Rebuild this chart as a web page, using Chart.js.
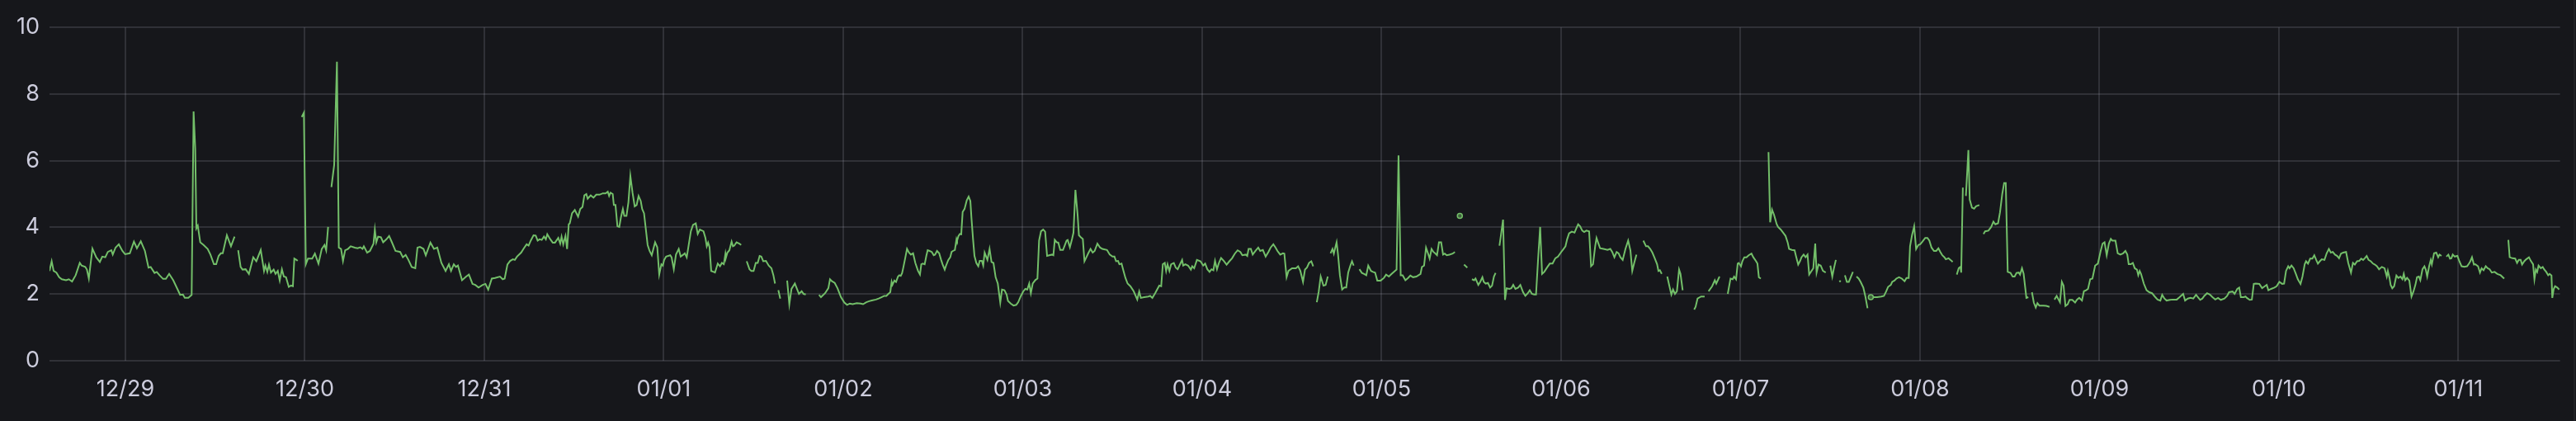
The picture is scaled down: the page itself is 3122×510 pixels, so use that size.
<!DOCTYPE html>
<html><head><meta charset="utf-8">
<script src="https://cdn.jsdelivr.net/npm/chart.js@4.4.1/dist/chart.umd.min.js"></script>
<style>html,body{margin:0;padding:0;background:#161719;overflow:hidden}canvas{display:block}</style>
</head><body>
<canvas id="c" width="3122" height="510" style="width:3122px;height:510px"></canvas>
<script>
// Hours since 12/29 00:00 and the series value at each reading (null = gap in data)
const hours = [
-10.15,-9.86,-9.60,-9.23,-8.86,-8.50,-7.94,-7.57,-7.13,-6.65,
-6.10,-5.85,-5.37,-5.15,-4.89,-4.41,-3.90,-3.42,-3.09,-2.69,
-2.35,-1.88,-1.69,-1.32,-0.88,-0.40,-0.04,0.59,1.14,1.54,
2.06,2.61,3.09,3.38,3.90,4.19,4.56,5.04,5.41,5.85,
6.40,6.95,7.32,7.69,7.94,8.42,8.86,9.12,9.34,9.49,
9.68,10.01,10.45,11.00,11.37,11.84,12.14,12.47,12.77,13.02,
13.57,14.12,14.60,14.84,15.08,15.41,15.67,16.08,16.52,17.10,
17.51,18.10,
18.54,18.72,18.98,19.20,19.46,19.83,20.08,20.38,20.64,20.93,
21.19,21.48,21.85,22.14,22.40,22.59,22.88,23.03,23.30,23.58,
23.87,24.13,24.42,24.98,25.34,25.82,26.26,26.63,26.85,27.11,
27.33,27.55,27.92,28.29,28.54,28.84,29.10,29.39,29.76,30.13,
30.68,31.05,31.41,31.71,31.89,32.33,32.70,33.18,33.36,33.55,
33.80,34.17,34.47,34.91,35.27,35.64,36.12,36.75,37.11,37.48,
37.85,38.29,38.77,39.06,39.39,39.87,40.17,40.79,41.27,41.71,
42.26,42.82,43.26,43.55,43.92,44.21,44.47,45.02,45.57,45.94,
46.42,46.79,47.23,47.78,48.15,48.52,49.00,
49.43,50.09,50.46,50.72,51.09,51.45,51.82,52.08,52.37,52.92,
53.29,53.66,53.92,54.21,54.58,54.87,55.13,55.39,55.68,55.98,
56.23,56.42,56.79,57.15,57.45,57.89,58.15,58.33,58.55,58.85,
59.07,59.29,59.43,59.73,60.10,60.54,60.83,61.13,61.38,61.64,
61.82,62.23,62.60,62.97,63.41,63.85,64.22,64.51,64.69,64.88,
65.17,65.32,65.54,65.80,66.05,66.27,66.53,66.72,67.01,67.27,
67.53,67.82,68.11,68.37,68.63,68.92,69.11,69.36,69.84,70.10,
70.39,70.65,70.84,71.13,71.39,71.68,71.87,72.05,72.31,72.86,
73.04,73.34,73.63,74.00,74.26,74.62,74.81,75.07,75.36,75.62,
75.91,76.28,76.54,76.83,77.31,77.57,77.75,77.93,78.12,78.34,
78.67,78.85,79.22,79.52,79.77,80.03,80.25,
80.33,80.51,80.77,81.07,81.25,81.43,81.73,82.10,82.35,82.70,
83.09,83.46,83.71,84.01,84.30,84.56,84.82,85.04,85.30,85.66,
86.03,86.40,86.66,86.88,87.10,87.32,87.58,88.00,88.50,88.79,
89.08,89.53,90.08,90.44,90.70,90.99,91.80,92.76,93.02,93.57,
94.01,94.23,94.49,94.86,95.23,95.70,96.15,96.51,96.88,97.25,
97.80,98.35,98.65,99.09,99.46,99.82,100.37,100.74,101.11,101.48,
101.77,102.03,102.29,102.47,102.58,102.84,103.06,103.32,103.50,103.69,
103.87,104.05,104.31,104.53,104.79,105.05,105.34,105.64,106.00,106.26,
106.44,106.63,106.89,107.11,107.29,107.55,107.84,108.10,108.28,108.54,
108.83,109.09,109.28,109.57,109.75,110.05,110.31,110.49,110.67,110.93,
111.15,
111.23,111.41,111.60,111.78,111.97,112.22,112.52,112.77,113.00,113.14,
113.36,113.55,113.80,114.06,114.25,114.54,114.72,114.91,115.28,115.57,
115.83,116.09,116.38,116.67,117.00,117.23,117.56,117.85,118.03,118.40,
118.77,119.14,119.40,119.76,120.06,120.35,120.61,120.87,121.09,121.34,
121.71,121.97,122.19,122.45,122.74,123.00,123.26,123.55,123.92,124.10,
124.29,124.54,124.76,125.02,125.39,125.65,125.87,126.02,126.31,126.60,
126.79,127.05,127.34,127.52,127.78,128.04,128.26,128.52,128.77,129.07,
129.36,129.62,129.99,130.36,130.65,131.27,131.64,132.01,132.27,132.49,
132.75,132.93,133.22,133.48,133.74,134.03,134.40,134.84,135.32,135.58,
135.80,136.24,136.79,137.05,137.34,137.71,138.26,138.52,138.74,139.00,
139.18,139.37,139.62,139.85,140.21,140.47,140.73,141.02,141.32,141.46,
141.76,
142.12,142.49,142.67,142.93,143.30,143.78,144.14,144.40,144.69,144.99,
145.25,145.50,145.72,145.98,146.24,146.53,146.90,147.27,147.64,148.00,
148.37,148.74,149.11,149.37,149.84,150.03,150.21,150.51,150.76,151.13,
151.50,151.76,152.12,152.49,152.86,153.15,153.52,153.82,154.07,154.44,
154.81,154.99,155.29,155.54,156.02,156.54,156.83,157.13,157.49,157.75,
158.01,158.30,158.60,158.85,159.10,159.33,159.59,159.85,160.22,160.51,
160.80,161.00,161.17,161.43,161.61,161.80,161.98,162.17,162.42,162.72,
163.01,163.27,163.53,163.82,164.04,164.26,164.60,165.03,165.36,165.66,
165.95,166.21,166.58,166.84,167.13,167.42,167.87,168.31,168.60,168.97,
169.34,169.78,170.00,170.26,170.55,170.81,171.18,171.54,171.84,172.21,
172.65,
173.20,173.39,173.68,173.94,174.20,174.42,174.68,174.93,175.15,175.41,
175.67,175.96,176.22,176.44,176.70,177.07,177.51,177.80,178.10,178.46,
178.75,179.02,179.46,179.75,180.08,180.38,180.56,180.93,181.19,181.48,
181.66,181.92,182.22,182.51,182.77,183.02,183.24,183.50,183.76,183.98,
184.24,184.50,184.72,185.08,185.34,185.60,185.89,186.26,186.55,186.92,
187.22,187.55,187.81,188.10,188.39,188.65,188.91,189.20,189.46,189.75,
190.12,190.49,190.86,191.23,191.59,191.96,192.33,192.59,192.81,193.07,
193.43,193.80,194.06,194.28,194.54,194.83,195.09,195.38,195.75,196.01,
196.27,196.56,196.74,197.00,197.22,197.66,198.21,198.58,198.84,199.13,
199.43,199.69,199.94,200.24,200.61,200.97,201.27,201.52,201.78,202.08,
202.50,203.00,203.36,203.62,203.92,
204.21,204.47,204.84,205.02,205.21,205.46,205.80,206.20,206.49,206.75,
206.97,207.23,207.49,207.78,207.97,208.26,209.00,209.80,209.99,210.25,
210.72,211.20,211.45,211.72,212.20,212.56,212.75,213.19,213.70,214.29,
214.66,214.95,215.14,215.40,215.62,215.76,216.06,216.24,216.50,216.79,
217.09,217.46,217.71,218.08,218.26,218.45,218.71,219.20,219.74,219.96,
220.21,220.47,220.84,221.02,221.39,221.76,222.02,222.31,222.49,222.86,
223.23,223.41,223.71,223.97,224.15,224.44,224.70,224.96,225.18,225.73,
225.99,226.17,226.43,226.72,227.02,227.39,227.70,228.01,228.27,228.49,
228.75,229.00,229.23,229.38,229.65,229.96,230.22,230.48,230.77,231.03,
231.27,231.51,231.80,232.06,232.42,232.68,232.98,233.20,233.42,233.60,
233.79,234.27,234.82,
235.18,235.47,235.73,236.10,236.28,236.58,236.83,237.20,237.57,237.94,
238.19,238.49,238.67,238.93,239.22,239.48,239.78,240.03,240.33,240.70,
240.99,241.25,241.54,241.87,242.17,242.46,242.72,242.98,243.27,243.45,
243.82,244.08,244.37,244.65,244.92,245.18,245.40,245.51,245.73,245.95,
246.14,246.47,246.65,246.95,247.24,247.50,247.94,248.20,248.49,248.71,
249.15,249.52,249.82,250.07,250.44,250.70,251.00,251.25,251.47,251.73,
252.10,252.39,252.65,252.91,253.20,253.38,253.64,253.86,254.23,254.49,
254.70,254.97,255.22,255.48,255.70,255.96,256.51,256.88,257.32,257.65,
257.98,258.28,258.72,258.97,259.20,259.45,259.75,260.00,260.37,260.74,
261.00,261.29,261.66,261.92,262.21,262.47,262.76,263.06,263.42,263.79,
264.16,264.42,264.68,264.97,265.26,265.52,265.71,
266.14,266.44,266.80,267.17,267.47,267.72,267.91,268.20,268.46,268.72,
269.01,269.19,269.38,269.56,269.93,270.30,270.67,271.03,271.40,271.77,
272.14,272.39,272.69,272.98,273.42,273.79,274.34,274.71,275.19,275.45,
275.81,276.18,276.55,276.92,277.18,277.47,277.76,278.02,278.39,278.76,
279.12,279.49,279.86,280.23,280.71,281.07,281.33,281.81,282.07,282.43,
282.69,282.91,283.28,283.54,283.72,284.09,284.38,284.64,284.90,285.38,
285.75,286.11,286.37,286.59,286.96,287.40,287.69,288.06,288.43,288.69,
288.95,289.24,289.42,289.68,289.97,290.27,290.53,290.89,291.15,291.45,
291.63,291.89,292.18,292.48,292.73,292.99,293.21,293.47,293.73,294.09,
294.39,294.68,294.94,295.20,295.49,295.79,296.04,296.30,296.60,
296.98,297.27,297.64,297.90,298.15,298.45,298.74,299.00,299.26,299.48,
299.74,299.99,300.29,300.58,300.84,301.10,301.39,301.76,302.13,302.42,
302.57,302.79,302.94,303.16,303.41,303.71,303.97,304.26,304.52,304.70,
304.89,305.14,305.44,305.73,305.99,306.25,306.47,306.72,306.91,307.20,
307.46,307.64,307.83,308.09,308.31,308.45,308.75,309.04,309.30,309.48,
309.74,310.05,310.40,310.66,310.88,311.06,311.25,311.51,311.87,312.13,
312.43,312.79,313.16,313.42,313.60,313.82,314.08,314.26,314.63,314.89,
315.11,315.37,315.66,315.92,316.18,316.47,316.84,317.21,317.65,318.13,
318.40,318.68,318.86,319.23,319.60,319.85,320.08,320.33,320.52,320.81,
321.07,321.44,321.69,321.99,322.17,322.36,322.54,322.72,323.02,323.28,
323.46,323.75,324.01,324.20,324.45,324.56,324.75,324.93,325.22,325.48
];
const values = [
2.69,2.98,2.69,2.64,2.50,2.44,2.41,2.44,2.37,2.56,
2.93,2.85,2.81,2.73,2.46,3.36,3.10,2.96,3.12,3.10,
3.26,3.31,3.18,3.39,3.49,3.29,3.19,3.22,3.57,3.37,
3.58,3.29,2.79,2.81,2.63,2.66,2.56,2.45,2.45,2.60,
2.41,2.15,1.97,1.98,1.88,1.88,1.97,7.48,6.36,3.97,
4.05,3.55,3.47,3.35,3.18,2.89,2.89,3.14,3.22,3.22,
3.76,3.43,3.72,null,3.31,2.81,2.73,2.74,2.60,3.10,
2.98,3.32,
2.69,2.85,2.66,2.88,2.64,2.73,2.60,2.69,2.40,2.74,
2.52,2.50,2.21,2.25,2.23,3.06,3.02,2.99,null,7.31,
7.44,2.89,3.06,3.06,3.21,2.91,3.35,3.47,3.31,4.01,
null,5.21,5.87,8.97,3.39,3.35,2.99,3.31,3.35,3.43,
3.39,3.37,3.40,3.35,3.43,3.24,3.29,3.51,3.93,3.55,
3.72,3.70,3.55,3.64,3.74,3.55,3.29,3.26,3.10,3.17,
3.02,2.81,2.77,3.39,3.41,3.35,3.16,3.54,3.35,3.39,
2.93,2.69,2.89,2.69,2.89,2.81,2.85,2.41,2.52,2.58,
2.30,2.27,2.19,2.27,2.30,2.13,2.46,
2.48,2.52,2.44,2.46,2.88,2.99,3.04,3.02,3.12,3.24,
3.37,3.49,3.45,3.60,3.76,3.75,3.60,3.64,3.62,3.72,
3.64,3.79,3.65,3.54,3.54,3.68,3.51,3.72,3.49,3.74,
3.35,4.09,4.12,4.42,4.52,4.32,4.55,4.61,4.96,5.00,
4.86,4.96,4.89,4.98,4.98,5.02,5.02,5.07,4.94,5.04,
5.00,4.67,4.67,4.03,4.01,4.30,4.55,4.34,4.34,4.75,
5.54,5.04,4.63,4.67,4.94,4.79,4.55,4.42,3.47,3.29,
3.16,3.39,3.55,3.40,2.58,2.89,2.85,3.02,3.12,3.16,
3.10,2.74,3.18,3.35,3.12,3.18,3.22,3.10,3.51,3.88,
4.07,4.12,3.80,3.93,3.88,3.68,3.43,3.54,3.40,2.69,
2.66,2.64,2.91,2.83,2.93,2.89,3.21,
3.10,3.24,3.31,3.57,3.43,3.45,3.55,3.51,3.47,null,
2.98,2.74,2.69,2.69,2.93,2.93,3.14,3.12,2.98,2.99,
2.85,2.77,2.56,2.31,null,2.11,1.86,null,2.40,1.69,
2.15,2.31,2.00,2.08,2.00,1.98,null,1.97,1.90,2.02,
2.17,2.44,2.38,2.33,2.17,1.90,1.74,1.67,1.71,1.69,
1.72,1.71,1.69,1.75,1.78,1.80,1.83,1.86,1.90,1.94,
1.94,2.00,2.05,2.36,2.27,2.40,2.36,2.52,2.56,2.54,
2.62,2.81,3.10,3.35,3.24,3.18,3.22,2.93,2.69,2.58,
2.89,2.91,2.89,3.14,3.31,3.29,3.26,3.16,3.18,3.29,
3.22,3.02,2.89,2.73,2.85,3.02,3.10,3.26,3.29,3.32,
3.65,
3.60,3.74,3.80,3.79,4.46,4.55,4.81,4.92,4.79,4.30,
3.64,3.14,2.93,2.83,2.99,2.99,2.85,3.24,3.02,3.35,
2.96,2.93,2.50,2.31,1.74,2.13,2.11,1.98,1.79,1.71,
1.65,1.67,1.75,1.94,2.07,2.15,2.13,2.31,2.02,2.31,
2.42,2.46,3.60,3.88,3.93,3.87,3.14,3.16,3.18,3.16,
3.62,3.55,3.54,3.32,3.32,3.47,3.60,3.62,3.40,3.65,
3.84,5.12,4.38,3.76,3.70,3.65,2.98,3.10,3.22,3.35,
3.24,3.29,3.51,3.39,3.35,3.32,3.18,3.12,3.12,2.98,
2.99,2.89,2.91,2.69,2.48,2.31,2.23,2.08,1.83,2.07,
1.88,1.90,1.92,1.94,1.88,2.02,2.25,2.23,2.89,2.93,
2.69,2.89,2.69,2.89,2.93,2.79,2.74,2.88,3.02,2.85,
2.89,
2.85,2.73,2.83,2.77,3.02,2.98,2.85,2.91,2.74,2.66,
2.74,2.71,2.99,2.74,2.93,3.08,2.99,2.88,2.98,3.07,
3.21,3.31,3.26,3.16,3.18,3.14,3.35,3.35,3.18,3.29,
3.39,3.29,3.32,3.12,3.26,3.39,3.49,3.39,3.29,3.18,
3.22,3.21,2.50,2.69,2.77,2.77,2.83,2.69,2.36,2.73,
2.79,2.93,2.98,2.83,null,1.75,2.07,2.52,2.25,2.27,
2.52,null,3.22,3.35,3.21,3.39,3.55,3.18,2.56,2.13,
2.19,2.19,2.64,2.85,2.98,2.85,null,2.74,2.63,2.60,
2.56,2.85,2.69,2.66,2.64,2.40,2.40,2.48,2.58,2.52,
2.60,2.69,2.73,6.16,2.56,2.56,2.41,2.48,2.55,2.50,
2.52,
2.60,2.81,2.85,3.39,3.22,3.06,3.35,3.26,3.22,3.16,
3.55,3.55,3.18,3.21,3.16,3.18,3.21,3.26,null,4.34,
null,2.88,2.79,null,2.44,2.41,2.46,2.27,2.36,2.50,
2.36,2.31,2.33,2.19,2.25,2.52,2.63,null,3.45,3.80,
4.23,1.82,2.17,2.15,2.17,2.27,2.15,2.19,2.27,2.05,
1.94,2.02,2.11,2.00,1.98,1.98,2.98,4.01,2.60,2.66,
2.79,2.91,2.91,3.07,3.12,3.24,3.35,3.43,3.64,3.82,
3.87,3.84,3.98,4.09,4.03,3.90,3.86,3.90,3.88,2.83,
2.89,3.43,3.68,3.51,3.37,3.35,3.32,3.35,3.26,3.10,
3.26,3.22,3.10,3.02,3.35,3.60,3.31,2.69,2.93,3.18,
null,3.60,3.43,3.43,3.35,
3.24,3.10,2.89,2.69,2.71,2.60,null,2.52,2.23,1.98,
2.13,2.00,2.08,2.73,2.60,2.11,null,1.53,1.61,1.86,
1.92,1.92,null,2.08,2.23,2.41,2.31,2.52,null,2.00,
2.46,2.44,2.52,2.44,2.91,2.93,2.83,2.98,3.10,3.10,
3.16,3.21,3.10,2.98,2.91,2.50,2.46,null,6.26,4.15,
4.53,4.38,4.09,4.01,3.93,3.82,3.74,3.54,3.35,3.32,
3.31,3.14,2.88,2.99,3.10,3.18,3.10,3.18,2.58,2.77,
3.51,2.64,2.88,2.85,2.69,2.64,null,2.85,2.52,2.77,
3.02,null,2.40,2.36,null,2.56,2.36,2.36,2.52,2.66,
null,2.52,2.46,2.36,2.19,1.94,1.57,null,1.90,null,
1.90,1.90,1.92,
1.94,2.07,2.21,2.27,2.36,2.40,2.46,2.50,2.46,2.38,
2.48,2.48,3.43,3.76,4.03,3.35,3.47,3.49,3.57,3.68,
3.68,3.60,3.39,3.29,3.29,3.37,3.26,3.16,3.10,3.04,
3.07,3.02,2.96,null,2.58,2.77,2.81,2.64,5.19,null,
4.94,6.32,4.83,4.59,4.56,4.63,4.67,null,3.80,3.88,
3.90,4.01,4.17,4.09,4.12,4.45,5.00,5.33,5.33,2.66,
2.63,2.52,2.52,2.63,2.64,2.58,2.77,2.60,1.88,1.90,
null,2.05,1.74,1.59,1.72,1.65,1.65,1.64,1.61,null,
1.83,1.94,1.75,2.36,2.25,1.64,1.69,1.82,1.82,1.74,
1.83,1.88,1.80,2.08,2.11,2.15,2.44,2.46,2.85,2.91,
3.29,3.51,3.55,3.16,3.51,3.65,3.60,
3.60,3.22,3.18,3.22,3.29,3.18,2.89,2.89,2.93,2.77,
2.73,2.56,2.69,2.60,2.31,2.11,2.05,2.02,1.92,1.83,
1.80,1.97,1.86,1.80,1.82,1.83,1.83,1.90,2.00,1.80,
1.86,1.88,1.86,1.97,1.90,1.82,1.86,1.94,2.02,1.98,
1.90,1.83,1.88,1.82,1.86,1.94,2.05,2.07,2.00,2.15,
2.19,1.90,1.90,1.92,1.88,1.82,1.83,2.30,2.31,2.30,
2.17,2.23,2.27,2.11,2.15,2.19,2.23,2.36,2.30,2.31,
2.69,2.83,2.77,2.85,2.77,2.60,2.44,2.30,2.52,2.89,
2.98,2.91,3.06,3.06,3.16,3.02,2.91,2.98,3.04,3.02,
3.22,3.35,3.24,3.26,3.18,3.14,3.07,3.21,3.24,
3.26,2.93,2.64,2.93,2.88,2.98,2.99,3.06,3.02,3.07,
3.14,3.02,2.98,2.91,2.88,2.83,2.74,2.81,2.77,2.52,
2.69,2.48,2.27,2.17,2.23,2.55,2.48,2.52,2.44,2.60,
2.41,2.48,2.40,1.92,2.07,2.27,2.50,2.52,2.41,2.74,
2.83,2.73,2.52,2.83,3.02,2.89,3.22,3.24,3.10,3.18,
3.14,null,3.12,3.18,3.06,3.07,3.18,3.12,3.14,2.98,
2.83,2.81,2.83,2.91,2.98,3.10,2.88,2.89,2.83,2.64,
2.77,2.71,2.83,2.77,2.74,2.64,2.66,2.60,2.56,2.46,
null,3.62,3.10,3.07,3.06,2.93,3.02,3.02,2.88,2.98,
3.04,3.10,2.99,2.89,2.44,2.73,2.66,2.85,2.77,2.81,
2.74,2.66,2.56,2.60,2.55,1.88,2.15,2.23,2.19,2.13
];
const tickHours = [0,24,48,72,96,120,144,168,192,216,240,264,288,312];
const tickLabels = ['12/29','12/30','12/31','01/01','01/02','01/03','01/04','01/05','01/06','01/07','01/08','01/09','01/10','01/11'];
const yTicks = [0,2,4,6,8,10];

if (hours.length !== values.length) throw new Error('length mismatch ' + hours.length + ' vs ' + values.length);

const points = hours.map((h, i) => ({ x: h, y: values[i] }));
const isolated = i => values[i] !== null &&
  (i === 0 || values[i - 1] === null) &&
  (i === values.length - 1 || values[i + 1] === null);

const gridColor = 'rgba(204,204,220,0.15)';
const labelColor = 'rgb(204,204,220)';
const labelFont = { family: 'Inter', size: 27 };

const panel = {
  id: 'panel',
  beforeDraw(c) {
    const x = c.ctx; x.save();
    x.fillStyle = '#16171b'; x.fillRect(0, 0, c.width, c.height);
    x.restore();
  },
  afterDraw(c) {
    const x = c.ctx; x.save();
    x.fillStyle = '#212226'; x.fillRect(c.width - 3, 0, 2, c.height);
    x.restore();
  }
};

new Chart(document.getElementById('c'), {
  type: 'line',
  data: {
    datasets: [{
      data: points,
      borderColor: '#73BF69',
      borderWidth: 2,
      tension: 0,
      fill: false,
      spanGaps: false,
      pointRadius: ctx => isolated(ctx.dataIndex) ? 3 : 0,
      pointHoverRadius: 0,
      pointBackgroundColor: 'rgba(115,191,105,0.45)',
      pointBorderColor: '#73BF69',
      pointBorderWidth: 1.5
    }]
  },
  options: {
    responsive: false,
    animation: false,
    devicePixelRatio: 1,
    events: [],
    layout: { padding: { top: 33.3, right: 19.3, left: 0, bottom: 0 } },
    plugins: { legend: { display: false }, tooltip: { enabled: false } },
    scales: {
      x: {
        type: 'linear',
        min: -10.15,
        max: 325.6,
        afterBuildTicks: s => { s.ticks = tickHours.map(v => ({ value: v })); },
        afterFit: s => { s.height = 73.3; },
        ticks: {
          autoSkip: false, maxRotation: 0, minRotation: 0, padding: 19,
          color: labelColor, font: labelFont,
          callback: (v, i) => tickLabels[i]
        },
        grid: { color: gridColor, lineWidth: 2, drawTicks: false },
        border: { display: false }
      },
      y: {
        min: 0,
        max: 10,
        afterBuildTicks: s => { s.ticks = yTicks.map(v => ({ value: v })); },
        afterFit: s => { s.width = 60; },
        ticks: { padding: 12, color: labelColor, font: labelFont },
        grid: { color: gridColor, lineWidth: 2, drawTicks: false },
        border: { display: false }
      }
    }
  },
  plugins: [panel]
});
</script>
</body></html>
